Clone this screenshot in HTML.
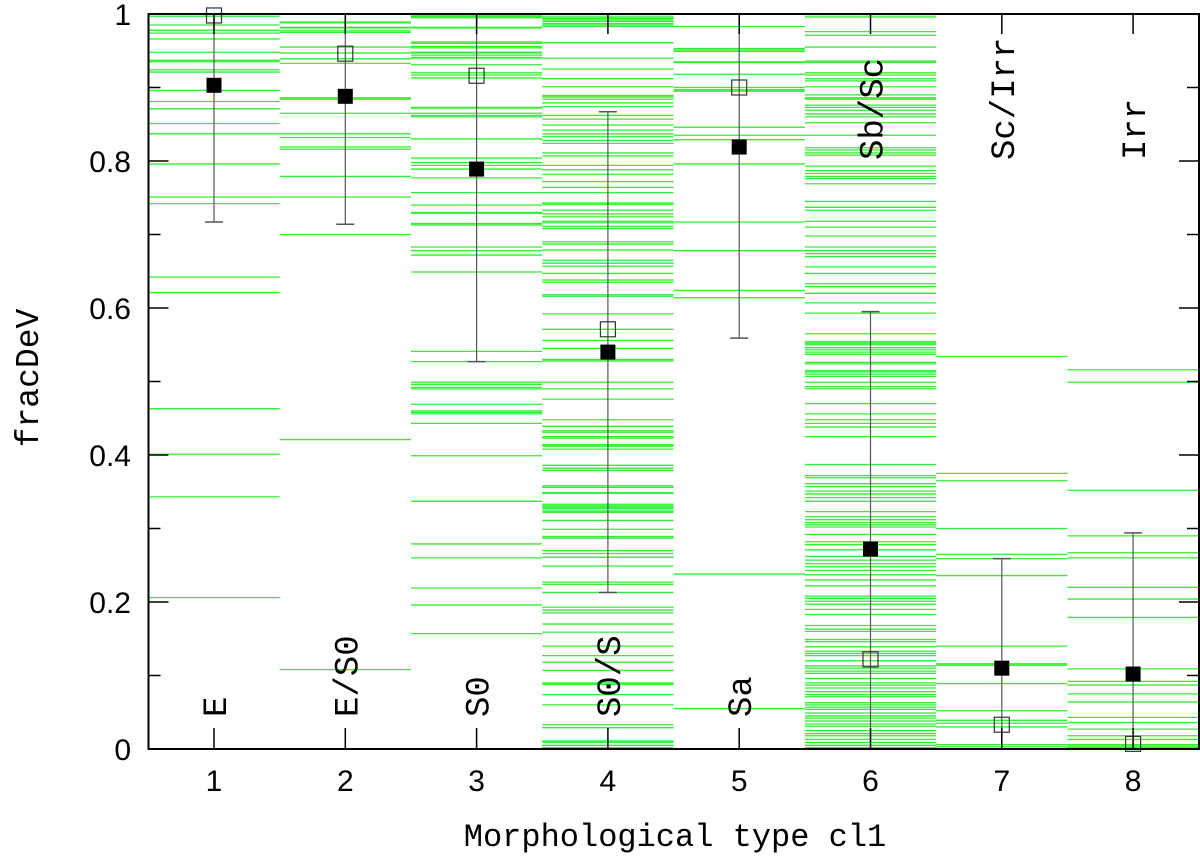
<!DOCTYPE html>
<html><head><meta charset="utf-8"><style>
html,body{margin:0;padding:0;background:#fff;}
svg{display:block;}
text{fill:#000;}
</style></head><body>
<svg id="chart" width="1200" height="860" viewBox="0 0 1200 860" xmlns="http://www.w3.org/2000/svg">
<g id="green"></g>
<g id="err"></g>
<g id="marks"></g>
<g id="axes"></g>
<g id="labels"></g>
</svg>
<script>
const categories = [1,2,3,4,5,6,7,8];
const typeNames = ["E","E/S0","S0","S0/S","Sa","Sb/Sc","Sc/Irr","Irr"];
const typeLabelTop = [false,false,false,false,false,true,true,true];
const meanValues = [0.903,0.888,0.789,0.540,0.819,0.272,0.110,0.102];
const medianValues = [0.998,0.946,0.916,0.571,0.900,0.122,0.033,0.007];
const sdValues = [0.186,0.174,0.262,0.327,0.260,0.323,0.149,0.192];
const yTickLabels = ["0","0.2","0.4","0.6","0.8","1"];
const yTickValues = [0,0.2,0.4,0.6,0.8,1];
const xTickLabels = ["1","2","3","4","5","6","7","8"];
const bin1 = [0.997,0.985,0.978,0.974,0.966,0.948,0.937,0.935,0.924,0.921,0.896,0.881,0.871,0.851,0.837,0.796,0.751,0.742,0.642,0.621,0.463,0.401,0.343,0.206];
const bin2 = [0.989,0.988,0.982,0.981,0.977,0.975,0.955,0.947,0.939,0.933,0.886,0.884,0.865,0.837,0.832,0.819,0.816,0.779,0.751,0.700,0.421,0.108];
const bin3 = [0.999,0.997,0.996,0.995,0.982,0.981,0.962,0.960,0.956,0.954,0.948,0.947,0.944,0.941,0.940,0.931,0.920,0.917,0.913,0.873,0.872,0.865,0.862,0.860,0.830,0.804,0.798,0.794,0.789,0.777,0.757,0.740,0.730,0.729,0.715,0.713,0.683,0.678,0.672,0.649,0.541,0.527,0.499,0.496,0.492,0.490,0.469,0.460,0.458,0.456,0.443,0.399,0.337,0.279,0.260,0.219,0.196,0.157];
const bin4 = [0.999,0.996,0.994,0.992,0.990,0.987,0.985,0.983,0.961,0.940,0.925,0.912,0.901,0.889,0.887,0.884,0.879,0.874,0.862,0.857,0.849,0.842,0.837,0.833,0.828,0.824,0.811,0.807,0.794,0.788,0.782,0.772,0.764,0.757,0.743,0.741,0.733,0.728,0.724,0.718,0.716,0.711,0.708,0.690,0.687,0.679,0.665,0.661,0.657,0.647,0.638,0.635,0.618,0.616,0.592,0.571,0.556,0.545,0.530,0.528,0.499,0.490,0.476,0.448,0.439,0.433,0.431,0.425,0.423,0.414,0.412,0.408,0.386,0.382,0.379,0.358,0.356,0.349,0.348,0.333,0.331,0.329,0.327,0.324,0.322,0.311,0.299,0.289,0.287,0.270,0.266,0.261,0.249,0.227,0.224,0.213,0.193,0.189,0.185,0.170,0.159,0.140,0.127,0.118,0.107,0.090,0.088,0.074,0.060,0.033,0.029,0.011,0.009,0.005,0.002];
const bin5 = [0.983,0.953,0.951,0.949,0.935,0.934,0.918,0.900,0.897,0.895,0.846,0.835,0.829,0.796,0.717,0.678,0.624,0.614,0.238,0.055];
const bin6 = [0.999,0.996,0.976,0.971,0.955,0.936,0.934,0.920,0.917,0.912,0.909,0.901,0.890,0.886,0.884,0.876,0.873,0.869,0.864,0.860,0.852,0.835,0.818,0.815,0.811,0.808,0.793,0.787,0.783,0.779,0.776,0.769,0.745,0.737,0.733,0.718,0.710,0.698,0.683,0.678,0.674,0.670,0.656,0.647,0.633,0.629,0.620,0.607,0.593,0.565,0.554,0.552,0.550,0.546,0.543,0.540,0.537,0.526,0.524,0.515,0.513,0.510,0.507,0.499,0.493,0.490,0.470,0.456,0.448,0.443,0.438,0.425,0.387,0.372,0.369,0.361,0.357,0.351,0.347,0.342,0.337,0.323,0.316,0.312,0.308,0.305,0.302,0.292,0.282,0.278,0.271,0.262,0.257,0.252,0.248,0.243,0.237,0.230,0.222,0.208,0.205,0.201,0.197,0.190,0.183,0.168,0.163,0.160,0.149,0.146,0.139,0.133,0.130,0.127,0.120,0.113,0.110,0.106,0.103,0.096,0.090,0.087,0.083,0.078,0.074,0.071,0.063,0.060,0.057,0.054,0.049,0.045,0.042,0.038,0.034,0.031,0.025,0.021,0.018,0.013,0.009,0.005,0.002];
const bin7 = [0.534,0.375,0.365,0.300,0.265,0.259,0.236,0.140,0.116,0.114,0.089,0.052,0.039,0.035,0.030,0.006,0.003];
const bin8 = [0.516,0.499,0.352,0.290,0.267,0.260,0.220,0.204,0.179,0.109,0.092,0.087,0.075,0.064,0.043,0.036,0.027,0.018,0.013,0.006,0.004,0.002];
const bins = [bin1,bin2,bin3,bin4,bin5,bin6,bin7,bin8];

const NS = "http://www.w3.org/2000/svg";
const X0 = 148.5, X1 = 1199, Y0 = 749, Y1 = 14;
function xs(v){ return 214 + (v-1)*131.3; }
function ys(v){ return Y0 - v*(Y0-Y1); }
function mk(tag, attrs, parent){
  const e = document.createElementNS(NS, tag);
  for (const k in attrs) e.setAttribute(k, attrs[k]);
  parent.appendChild(e);
  return e;
}
const G = document.getElementById('green'), E = document.getElementById('err'),
      M = document.getElementById('marks'), A = document.getElementById('axes'),
      L = document.getElementById('labels');

bins.forEach((arr, i) => {
  const c = categories[i];
  arr.forEach(v => {
    const y = ys(v);
    const ln = mk('line', {x1: xs(c-0.5), x2: xs(c+0.5), y1: y, y2: y, stroke: '#33ee33', 'stroke-width': 1.3}, G);
    
    
  });
});

categories.forEach((c, i) => {
  const x = xs(c);
  const hi = meanValues[i] + sdValues[i], lo = meanValues[i] - sdValues[i];
  const yh = Math.max(Y1, ys(hi)), yl = Math.min(Y0, ys(lo));
  const bar = mk('line', {x1: x, x2: x, y1: yh, y2: yl, stroke: '#555', 'stroke-width': 1.2}, E);
  
  
  if (hi <= 1) { const cap = mk('line', {x1: x-9, x2: x+9, y1: ys(hi), y2: ys(hi), stroke: '#555', 'stroke-width': 1.5}, E);
    
     }
  if (lo >= 0) { const cap2 = mk('line', {x1: x-9, x2: x+9, y1: ys(lo), y2: ys(lo), stroke: '#555', 'stroke-width': 1.5}, E);
    
     }
  const ym = ys(medianValues[i]);
  const op = mk('rect', {x: x-7.5, y: ym-7.5, width: 15, height: 15, fill: 'none', stroke: '#333', 'stroke-width': 1.2}, M);
  
  
  const yf = ys(meanValues[i]);
  const fm = mk('rect', {x: x-7.5, y: yf-7.5, width: 15, height: 15, fill: '#000'}, M);
  
  
  const top = typeLabelTop[i];
  const ty = top ? 160 : 717;
  const t = mk('text', {x: x + 12, y: ty, transform: `rotate(-90 ${x+12} ${ty})`, 'font-family': '"Liberation Mono", monospace', 'font-size': 34}, L);
  t.textContent = typeNames[i];
  
  
});

const fr = mk('rect', {x: X0, y: Y1, width: X1-X0, height: Y0-Y1, fill: 'none', stroke: '#000', 'stroke-width': 2}, A);


for (let k = 0; k <= 10; k++) {
  const y = ys(k/10), len = (k % 2 === 0) ? 20 : 12;
  mk('line', {x1: X0, x2: X0+len, y1: y, y2: y, stroke: '#000', 'stroke-width': 1.5}, A);
  mk('line', {x1: X1-len, x2: X1, y1: y, y2: y, stroke: '#000', 'stroke-width': 1.5}, A);
}
yTickValues.forEach((v, i) => {
  const t = mk('text', {x: 131, y: ys(v) + 11, 'text-anchor': 'end', 'font-family': '"Liberation Sans", sans-serif', 'font-size': 30}, L);
  t.textContent = yTickLabels[i];
  
  
});
categories.forEach((c, i) => {
  const x = xs(c);
  mk('line', {x1: x, x2: x, y1: Y0, y2: Y0-21, stroke: '#000', 'stroke-width': 1.5}, A);
  mk('line', {x1: x, x2: x, y1: Y1, y2: Y1+20, stroke: '#000', 'stroke-width': 1.5}, A);
  const t = mk('text', {x: x, y: 791, 'text-anchor': 'middle', 'font-family': '"Liberation Sans", sans-serif', 'font-size': 30}, L);
  t.textContent = xTickLabels[i];
  
  
});
const xt = mk('text', {x: 675, y: 846, 'text-anchor': 'middle', 'font-family': '"Liberation Mono", monospace', 'font-size': 32}, L);
xt.textContent = 'Morphological type cl1';


const yt = mk('text', {x: 38, y: 378, 'text-anchor': 'middle', transform: 'rotate(-90 38 378)', 'font-family': '"Liberation Mono", monospace', 'font-size': 33}, L);
yt.textContent = 'fracDeV';


</script>
</body></html>
